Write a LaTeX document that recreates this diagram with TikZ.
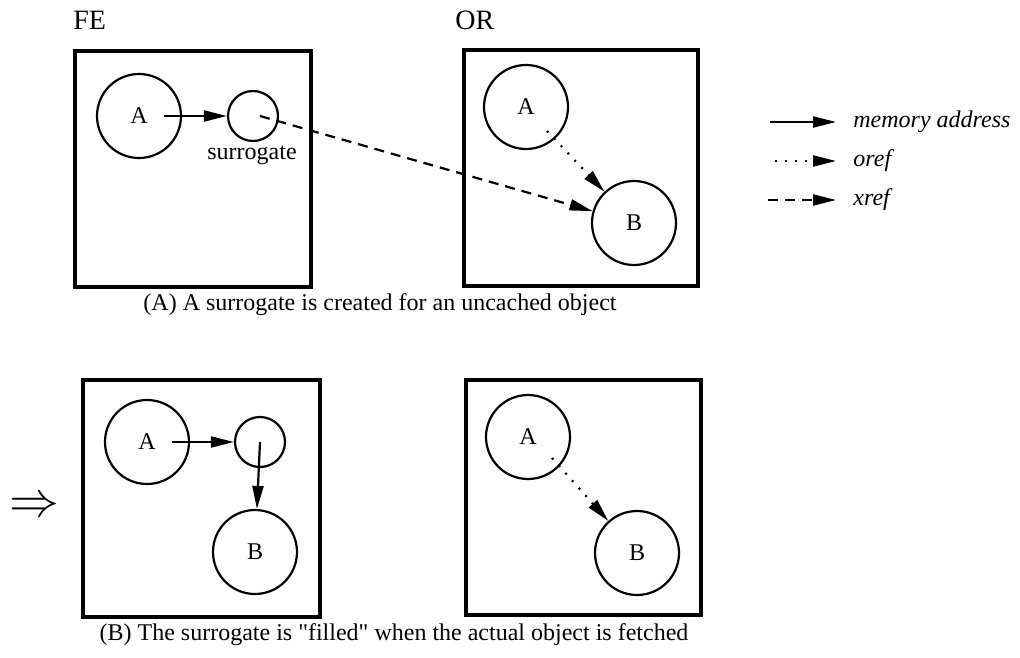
\documentclass[tikz,border=0pt]{standalone}
\usepackage{fontspec}
\setmainfont{Liberation Serif}[Ligatures=TeXOff]
\usetikzlibrary{arrows.meta, positioning}

\begin{document}
\fontsize{12}{14}\selectfont
\begin{tikzpicture}[x=0.5pt, y=-0.5pt,
    space/.style={draw, line width=2.4pt},
    obj/.style={circle, draw, line width=1.1pt, inner sep=0pt, minimum size=42pt},
    surr/.style={circle, draw, line width=1.1pt, inner sep=0pt, minimum size=25pt},
    ref/.style={line width=1.1pt, -{Triangle[length=11.5pt, width=5.5pt]}},
    oref/.style={ref, dash pattern=on 1pt off 4pt},
    xref/.style={ref, dash pattern=on 5pt off 3.5pt},
    hdr/.style={anchor=west, inner sep=0pt, font=\fontsize{14}{16}\selectfont},
    key/.style={anchor=west, inner sep=0pt, font=\itshape}]

      \useasboundingbox (0,0) rectangle (1020,657);

      % (A) FE side
      \node[hdr]  (fe) at (73,20) {FE};
      \draw[space] (75,51) rectangle (311,287);
      \node[obj]  (fa) at (139,116) {A};
      \node[surr] (fs) at (253,116) {};
      \node       (slbl) at (252,155) {surrogate};

      % (A) OR side
      \node[hdr] (or) at (455,20) {OR};
      \draw[space] (464,50) rectangle (698,286);
      \node[obj] (oa) at (526,107) {A};
      \node[obj] (ob) at (634,223) {B};

      % References
      \draw[ref]  ([xshift=12.5pt]fa.center) -- (fs);
      \draw[oref] ([shift={(10.5pt,-12pt)}]oa.center) -- (ob);
      \draw[xref] ([xshift=3.5pt]fs.center) -- (ob);

      \node (capa) at (380,305) {(A) A surrogate is created for an uncached object};

      % Legend
      \coordinate (m0) at (770,122); \coordinate (m1) at (836,122);
      \coordinate (o0) at (775,161); \coordinate (o1) at (836,161);
      \coordinate (x0) at (768,200); \coordinate (x1) at (836,200);
      \draw[ref]  (m0) -- (m1);
      \draw[oref] (o0) -- (o1);
      \draw[xref] (x0) -- (x1);
      \node[key] (mlbl) at (853,122) {memory address};
      \node[key] (olbl) at (853,161) {oref};
      \node[key] (xlbl) at (853,200) {xref};

      % (B) after the fetch
      \node (then) at (34,507) {\fontsize{24}{28}\selectfont$\Rightarrow$};

      \draw[space] (83,380) rectangle (320,617);
      \node[obj]  (ba) at (147,442) {A};
      \node[surr] (bs) at (260,442) {};
      \node[obj]  (bb) at (255,552) {B};
      \draw[ref] ([xshift=12.5pt]ba.center) -- (bs);
      \draw[ref] (bs.center) -- (bb);

      \draw[space] (466,380) rectangle (701,615);
      \node[obj] (ca) at (528,437) {A};
      \node[obj] (cb) at (637,553) {B};
      \draw[oref] ([shift={(12pt,-10.5pt)}]ca.center) -- (cb);

      \node (capb) at (394,635) {(B) The surrogate is "filled" when the actual object is fetched};
  \end{tikzpicture}
\end{document}
